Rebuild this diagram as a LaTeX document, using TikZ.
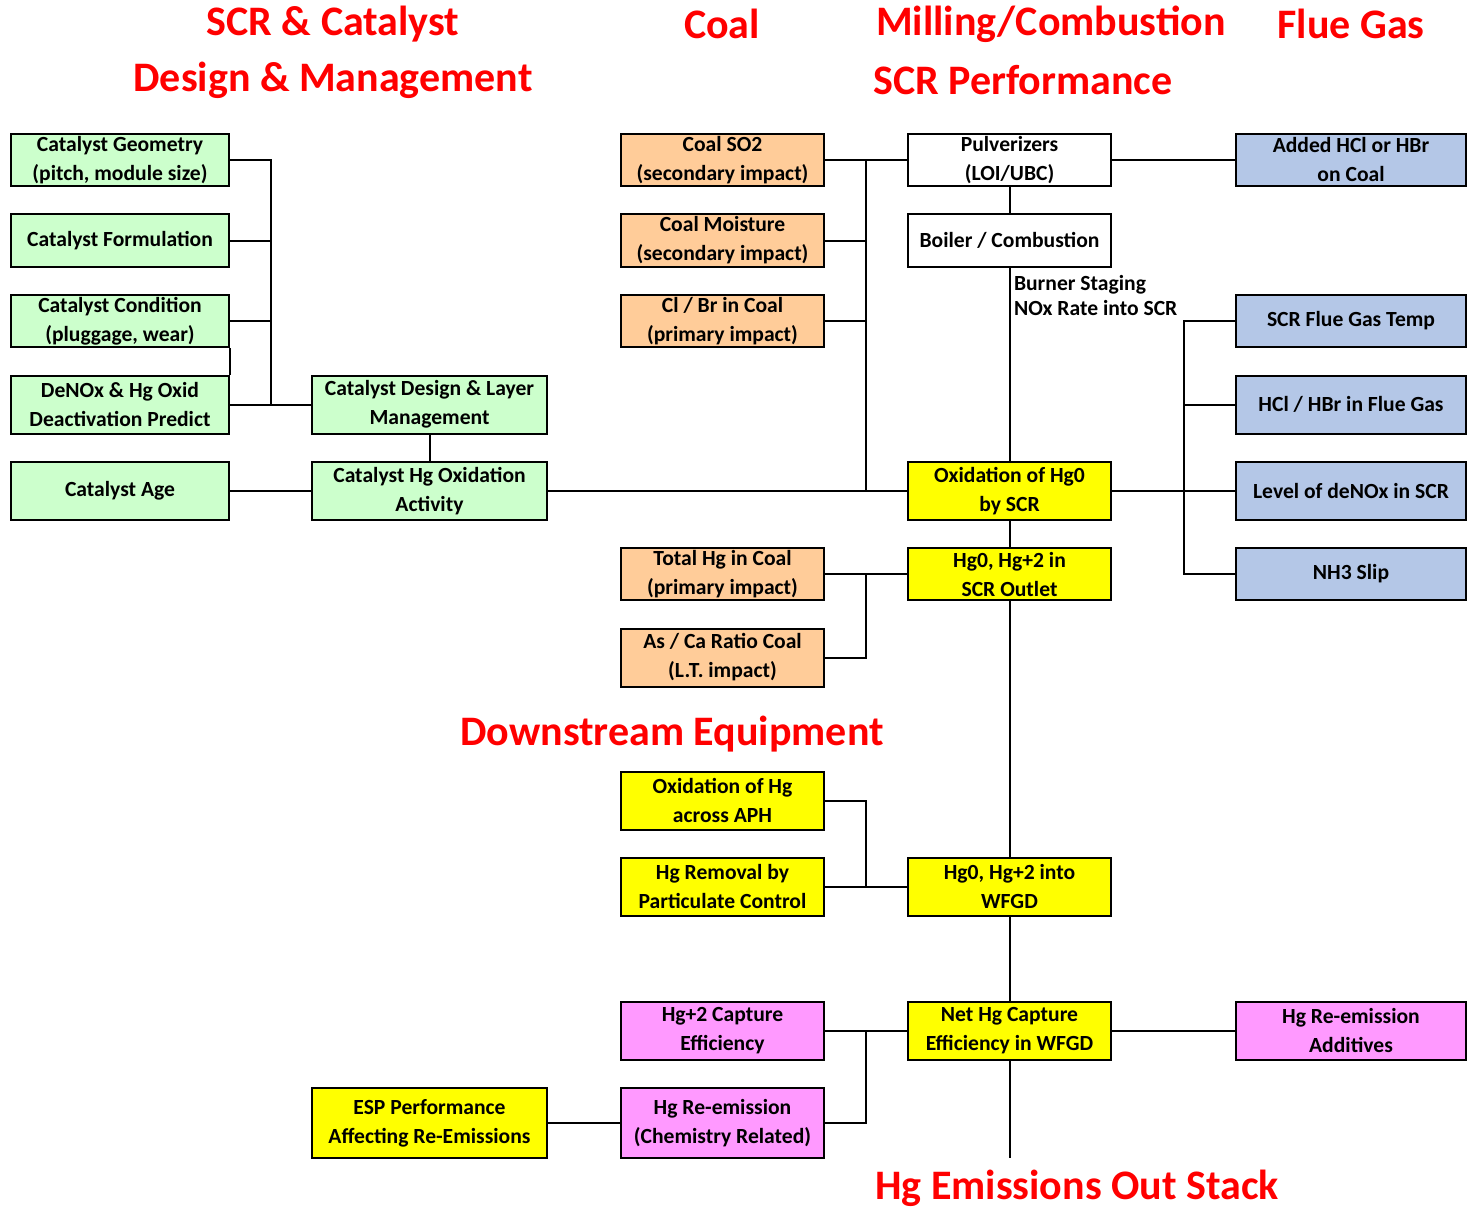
\documentclass[tikz,border=0pt]{standalone}
\usepackage{fontspec}
\setmainfont{Carlito}
\usepackage{xcolor}
\usetikzlibrary{positioning,calc}
\definecolor{catgreen}{HTML}{CCFFCC}
\definecolor{coalorange}{HTML}{FFCC99}
\definecolor{gasblue}{HTML}{B4C7E7}
\definecolor{hgyellow}{HTML}{FFFF00}
\definecolor{wfgdpink}{HTML}{FF99FF}
\definecolor{titlered}{HTML}{FF0000}
\tikzset{
  box/.style={draw, line width=1pt, inner sep=0pt, align=center,
    font=\fontsize{10.8}{14.5}\selectfont\bfseries},
  colA/.style={box, minimum width=109pt},
  colB/.style={box, minimum width=117.5pt},
  colC/.style={box, minimum width=101.5pt},
  colD/.style={box, minimum width=115pt},
  hs/.style={minimum height=26pt},
  hm/.style={minimum height=29pt},
  hl/.style={minimum height=35pt},
  title/.style={text=titlered, font=\fontsize{21}{26}\selectfont\bfseries, inner sep=0pt},
  link/.style={line width=1pt}
}

\begin{document}
\begin{tikzpicture}[x=0.5pt, y=-0.5pt]
			\useasboundingbox (0,0) rectangle (1470,1209);
			% titles
			\node [title] (tscr) at (333,24) {SCR \& Catalyst};
			\node [title] (tdes) at (333,80) {Design \& Management};
			\node [title] (tcoal) at (722,24) {Coal};
			\node [title] (tmill) at (1051,24) {Milling/Combustion};
			\node [title, anchor=west] (tperf) at (873,80) {SCR Performance};
			\node [title] (tflue) at (1351,24) {Flue Gas};
			\node [title] (tdown) at (672,734) {Downstream Equipment};
			\node [title] (tstack) at (1077,1188) {Hg Emissions Out Stack};
			% catalyst
			\node [colA, hs, fill=catgreen] (geom) at (120,160) {Catalyst Geometry\\(pitch, module size)};
			\node [colA, hs, fill=catgreen] (form) at (120,240.5) {Catalyst Formulation};
			\node [colA, hs, fill=catgreen] (cond) at (120,321) {Catalyst Condition\\(pluggage, wear)};
			\node [colA, hm, fill=catgreen] (denox) at (120,404.5) {DeNOx \& Hg Oxid\\Deactivation Predict};
			\node [colA, hm, fill=catgreen] (age) at (120,491) {Catalyst Age};
			\node [colB, hm, fill=catgreen] (design) at (429.5,404.5) {Catalyst Design \& Layer\\Management};
			\node [colB, hm, fill=catgreen] (activ) at (429.5,491) {Catalyst Hg Oxidation\\Activity};
			% coal
			\node [colC, hs, fill=coalorange] (so2) at (722.5,160) {Coal SO2\\(secondary impact)};
			\node [colC, hs, fill=coalorange] (moist) at (722.5,240.5) {Coal Moisture\\(secondary impact)};
			\node [colC, hs, fill=coalorange] (clbr) at (722.5,321) {Cl / Br in Coal\\(primary impact)};
			\node [colC, hs, fill=coalorange] (thg) at (722.5,574) {Total Hg in Coal\\(primary impact)};
			\node [colC, hm, fill=coalorange] (asca) at (722.5,657.5) {As / Ca Ratio Coal\\(L.T. impact)};
			% milling / combustion
			\node [colC, hs, fill=white] (pulv) at (1009.5,160) {Pulverizers\\(LOI/UBC)};
			\node [colC, hs, fill=white] (boiler) at (1009.5,240.5) {Boiler / Combustion};
			\node [colC, hm, fill=hgyellow] (oxscr) at (1009.5,491) {Oxidation of Hg0\\by SCR};
			\node [colC, hs, fill=hgyellow] (outlet) at (1009.5,574) {Hg0, Hg+2 in\\SCR Outlet};
			\node [colC, hm, fill=hgyellow] (wfgd) at (1009.5,886.5) {Hg0, Hg+2 into\\WFGD};
			\node [colC, hm, fill=hgyellow] (net) at (1009.5,1030.5) {Net Hg Capture\\Efficiency in WFGD};
			\node [box, draw=none, anchor=west, align=left,
			  font=\fontsize{10.8}{12.5}\selectfont\bfseries] (burner) at (1013,295) {Burner Staging\\NOx Rate into SCR};
			% flue gas
			\node [colD, hs, fill=gasblue] (addhcl) at (1351,160) {Added HCl or HBr\\on Coal};
			\node [colD, hs, fill=gasblue] (temp) at (1351,321) {SCR Flue Gas Temp};
			\node [colD, hm, fill=gasblue] (hclfg) at (1351,404.5) {HCl / HBr in Flue Gas};
			\node [colD, hm, fill=gasblue] (denoxlvl) at (1351,491) {Level of deNOx in SCR};
			\node [colD, hs, fill=gasblue] (nh3) at (1351,574) {NH3 Slip};
			% downstream
			\node [colC, hm, fill=hgyellow] (aph) at (722.5,800.5) {Oxidation of Hg\\across APH};
			\node [colC, hm, fill=hgyellow] (pm) at (722.5,886.5) {Hg Removal by\\Particulate Control};
			\node [colC, hm, fill=wfgdpink] (hg2) at (722.5,1030.5) {Hg+2 Capture\\Efficiency};
			\node [colC, hl, fill=wfgdpink] (reem) at (722.5,1123) {Hg Re-emission\\(Chemistry Related)};
			\node [colD, hm, fill=wfgdpink] (addre) at (1351,1030.5) {Hg Re-emission\\Additives};
			\node [colB, hl, fill=hgyellow] (esp) at (429.5,1123) {ESP Performance\\Affecting Re-Emissions};
			% bus lines
			\coordinate (busL) at (271,404.5);
			\coordinate (busC) at (866,491);
			\coordinate (busR) at (1184,321);
			\coordinate (stack) at (1009.5,1158);
			% catalyst links
			\draw [link] (geom.east) -| (busL);
			\draw [link] (form.east) -- (form.east -| busL);
			\draw [link] (cond.east) -- (cond.east -| busL);
			\draw [link] (cond.south east) -- (denox.north east);
			\draw [link] (denox) -- (design);
			\draw [link] (design) -- (activ);
			\draw [link] (age) -- (activ);
			\draw [link] (activ) -- (oxscr);
			% coal links
			\draw [link] (so2) -- (pulv);
			\draw [link] (so2.east -| busC) -- (busC);
			\draw [link] (moist.east) -- (moist.east -| busC);
			\draw [link] (clbr.east) -- (clbr.east -| busC);
			\draw [link] (thg) -- (outlet);
			\draw [link] (thg.east -| busC) |- (asca.east);
			% main line
			\draw [link] (pulv) -- (boiler);
			\draw [link] (boiler) -- (oxscr);
			\draw [link] (oxscr) -- (outlet);
			\draw [link] (outlet) -- (wfgd);
			\draw [link] (wfgd) -- (net);
			\draw [link] (net) -- (stack);
			% flue gas links
			\draw [link] (pulv) -- (addhcl);
			\draw [link] (temp.west) -- (busR) |- (nh3.west);
			\draw [link] (hclfg.west) -- (hclfg.west -| busR);
			\draw [link] (oxscr) -- (denoxlvl);
			% downstream links
			\draw [link] (aph.east) -| (pm.east -| busC);
			\draw [link] (pm) -- (wfgd);
			\draw [link] (hg2) -- (net);
			\draw [link] (hg2.east -| busC) |- (reem.east);
			\draw [link] (esp) -- (reem);
			\draw [link] (net) -- (addre);
		\end{tikzpicture}
\end{document}
